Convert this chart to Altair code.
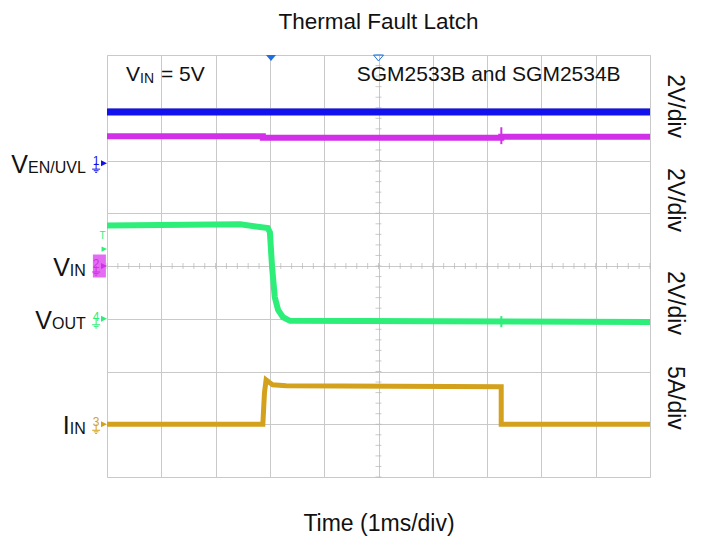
import altair as alt
import pandas as pd

# x: time in ms (1 ms/div, 10 div), y: graticule divisions above the bottom edge (8 div)
blue_t = [0, 10]
blue_v = [6.92, 6.92]

magenta_t = [0, 2.87, 2.87, 7.26, 7.26, 10]
magenta_v = [6.46, 6.46, 6.43, 6.43, 6.45, 6.45]
magenta_glitch_t = [7.262, 7.262]
magenta_glitch_v = [6.63, 6.31]

green_t = [0, 2.45, 2.96, 3.00, 3.04, 3.09, 3.15, 3.24, 3.37, 10]
green_v = [4.77, 4.79, 4.72, 4.64, 3.98, 3.41, 3.17, 3.03, 2.96, 2.94]
green_glitch_t = [7.262, 7.262]
green_glitch_v = [3.05, 2.84]

gold_t = [0, 2.87, 2.90, 2.93, 2.98, 3.05, 3.30, 7.26, 7.26, 10]
gold_v = [1.00, 1.00, 1.60, 1.84, 1.80, 1.75, 1.73, 1.71, 1.00, 1.00]

channels = ["1", "2", "4", "3"]
ground_levels = [5.95, 4.0, 3.0, 1.0]
label_main = ["V", "V", "V", "I"]
label_sub = ["EN/UVL", "IN", "OUT", "IN"]

scale_text = ["2V/div", "2V/div", "2V/div", "5A/div"]
scale_levels = [7.03, 5.25, 3.30, 1.50]

trigger_time = 3.02
trigger_level = 4.32

FONT = "Liberation Sans"
C_BLUE = "#1212ee"
C_MAG = "#d22fe8"
C_GREEN = "#2cee78"
C_GOLD = "#d4a11c"
ch_colors = [C_BLUE, C_MAG, C_GREEN, C_GOLD]

# rough Arial advance widths (em) for right-aligning the subscripts
ADV = {"E": .667, "N": .722, "/": .278, "U": .722, "V": .667, "L": .556,
       "I": .278, "O": .778, "T": .611}


def text_width(s, size):
    return sum(ADV.get(c, .6) for c in s) * size


X = alt.X("t:Q", scale=alt.Scale(domain=[0, 10], nice=False, zero=False),
          axis=alt.Axis(values=list(range(11)), labels=False, ticks=False, domain=False,
                        title="Time (1ms/div)", titleFont=FONT, titleFontSize=23,
                        titleFontWeight="normal", titleColor="#111", titlePadding=35,
                        gridColor="#c9c9c9", gridWidth=1))
Y = alt.Y("v:Q", scale=alt.Scale(domain=[0, 8], nice=False, zero=False),
          axis=alt.Axis(values=list(range(9)), labels=False, ticks=False, domain=False,
                        title=None, gridColor="#c9c9c9", gridWidth=1))

traces = []
for ts, vs, col, w in [(blue_t, blue_v, C_BLUE, 7),
                       (magenta_t, magenta_v, C_MAG, 6),
                       (magenta_glitch_t, magenta_glitch_v, C_MAG, 2),
                       (green_t, green_v, C_GREEN, 6),
                       (green_glitch_t, green_glitch_v, C_GREEN, 2),
                       (gold_t, gold_v, C_GOLD, 5)]:
    df = pd.DataFrame({"t": ts, "v": vs, "i": range(len(ts))})
    traces.append(alt.Chart(df).mark_line(color=col, strokeWidth=w, clip=True).encode(
        x=X, y=Y, order="i:Q"))

# graticule minor ticks on the centre lines
minor = [k / 5 for k in range(51)]
tick_h = alt.Chart(pd.DataFrame({"t": minor, "v": [4] * len(minor)})).mark_tick(
    orient="vertical", size=6, thickness=1, color="#b5b5b5").encode(x=X, y=Y)
minor_v = [k / 5 for k in range(41)]
tick_v = alt.Chart(pd.DataFrame({"t": [5] * len(minor_v), "v": minor_v})).mark_tick(
    orient="horizontal", size=6, thickness=1, color="#b5b5b5").encode(x=X, y=Y)

layers = [tick_h, tick_v] + traces

# channel ground markers on the left edge
ch = pd.DataFrame({"ch": channels, "v": ground_levels, "col": ch_colors})
box = alt.Chart(ch[ch.ch == "2"]).mark_point(
    shape="M-0.565,-1L0.565,-1L0.565,1L-0.565,1Z", size=529, filled=True,
    color="#e36cf2", opacity=1).encode(x=alt.datum(-0.14), y=alt.Y("v:Q"))
arrow = alt.Chart(ch).mark_point(shape="M-1,-1L1,0L-1,1Z", size=36, filled=True,
                                 opacity=1).encode(
    x=alt.datum(-0.055), y="v:Q", color=alt.Color("col:N", scale=None))
digit = alt.Chart(ch).mark_text(font=FONT, fontSize=12, baseline="middle", dy=-2).encode(
    x=alt.datum(-0.2), y="v:Q", text="ch:N", color=alt.Color("col:N", scale=None))
ground = alt.Chart(ch).mark_point(
    shape="M0,0L0,1.5M-1,1.5L1,1.5M-0.6,1.9L0.6,1.9M-0.25,2.3L0.25,2.3",
    size=64, filled=False, strokeWidth=1, opacity=1).encode(
    x=alt.datum(-0.2), y="v:Q", color=alt.Color("col:N", scale=None))
layers += [box, arrow, digit, ground]

# trigger level marker
layers.append(alt.Chart().mark_point(shape="M-1,-1L1,0L-1,1Z", size=30, filled=True,
                                     opacity=1, color=C_GREEN).encode(
    x=alt.datum(-0.05), y=alt.datum(trigger_level)))
layers.append(alt.Chart().mark_text(font=FONT, fontSize=10, color=C_GREEN).encode(
    x=alt.datum(-0.08), y=alt.datum(trigger_level + 0.25), text=alt.value("T")))

# trigger position and centre markers on top edge
layers.append(alt.Chart().mark_point(shape="M-1,0L1,0L0,1.2Z", size=100, filled=True,
                                     opacity=1, color="#1f6fe0").encode(
    x=alt.datum(trigger_time), y=alt.datum(8)))
layers.append(alt.Chart().mark_point(shape="M-1,0L1,0L0,1.2Z", size=100, filled=False,
                                     strokeWidth=1, opacity=1, color="#1f6fe0").encode(
    x=alt.datum(5), y=alt.datum(8)))

# left channel names with subscripts
for main, sub, lvl in zip(label_main, label_sub, ground_levels):
    sw = text_width(sub, 16)
    layers.append(alt.Chart().mark_text(font=FONT, fontSize=16, align="right",
                                        baseline="alphabetic", dy=10, color="#111").encode(
        x=alt.datum(-0.39), y=alt.datum(lvl), text=alt.value(sub)))
    layers.append(alt.Chart().mark_text(font=FONT, fontSize=25, align="right",
                                        baseline="alphabetic", dy=10, dx=-sw,
                                        color="#111").encode(
        x=alt.datum(-0.39), y=alt.datum(lvl), text=alt.value(main)))

# vertical scale labels on the right
sc = pd.DataFrame({"txt": scale_text, "v": scale_levels})
layers.append(alt.Chart(sc).mark_text(font=FONT, fontSize=23, angle=90, align="center",
                                      baseline="middle", color="#111").encode(
    x=alt.datum(10.46), y="v:Q", text="txt:N"))

# annotations inside the graticule
layers.append(alt.Chart().mark_text(font=FONT, fontSize=21, align="left",
                                    baseline="alphabetic", color="#111").encode(
    x=alt.datum(0.35), y=alt.datum(7.51), text=alt.value("V")))
layers.append(alt.Chart().mark_text(font=FONT, fontSize=14, align="left",
                                    baseline="alphabetic", dx=14, dy=2, color="#111").encode(
    x=alt.datum(0.35), y=alt.datum(7.51), text=alt.value("IN")))
layers.append(alt.Chart().mark_text(font=FONT, fontSize=21, align="left",
                                    baseline="alphabetic", dx=35, color="#111").encode(
    x=alt.datum(0.35), y=alt.datum(7.51), text=alt.value("= 5V")))
layers.append(alt.Chart().mark_text(font=FONT, fontSize=21, align="left",
                                    baseline="alphabetic", color="#111").encode(
    x=alt.datum(4.6), y=alt.datum(7.51), text=alt.value("SGM2533B and SGM2534B")))

# chart title above the graticule
layers.append(alt.Chart().mark_text(font=FONT, fontSize=22.5, align="center",
                                    baseline="alphabetic", color="#111").encode(
    x=alt.datum(5), y=alt.datum(8.50), text=alt.value("Thermal Fault Latch")))

chart = alt.layer(*layers).properties(
    width=543, height=422,
    padding={"left": 99, "top": 47, "right": 44, "bottom": 64},
    autosize=alt.AutoSizeParams(type="none"),
).configure_view(stroke="#3a3a3a", strokeWidth=1.5).configure(background="white")

chart.save("out.html", embed_options={"renderer": "svg", "actions": False})
